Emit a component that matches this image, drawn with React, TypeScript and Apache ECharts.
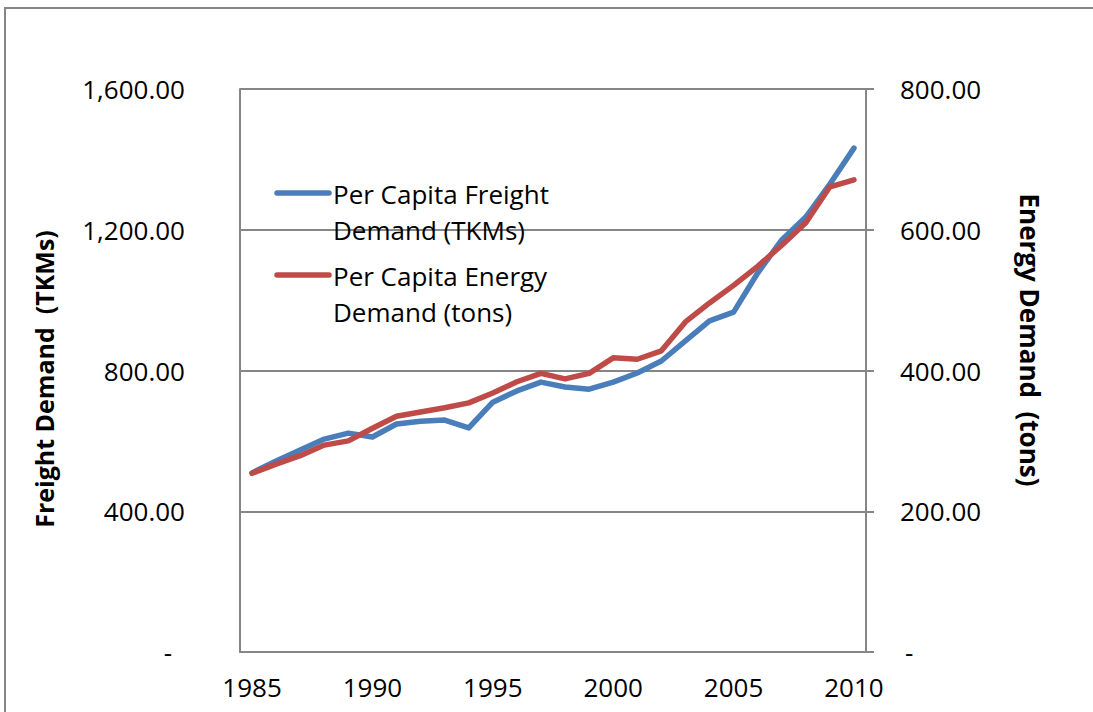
import React, { useEffect, useRef } from "react";
import * as echarts from "echarts";

const years = ["1985","1986","1987","1988","1989","1990","1991","1992","1993","1994","1995","1996","1997","1998","1999","2000","2001","2002","2003","2004","2005","2006","2007","2008","2009","2010"];
const freightName = "Per Capita Freight Demand (TKMs)";
const energyName = "Per Capita Energy Demand (tons)";
const freight = [509,543,574,605,622,611,648,656,659,637,710,742,767,753,747,767,793,827,884,941,966,1077,1171,1236,1330,1432];
const energy = [254,267,279,294,300,318,335,341,347,354,368,384,396,388,396,418,416,428,469,496,521,548,578,610,661,671];
const leftTicks = [0, 400, 800, 1200, 1600];
const rightTicks = [0, 200, 400, 600, 800];
const leftTitle = "Freight Demand  (TKMs)";
const rightTitle = "Energy Demand  (tons)";

const BLUE = "#4A7EBB";
const RED = "#BE4B48";
const FONT = "'Open Sans', 'Noto Sans', sans-serif";

const fmt = (v: number) =>
  v === 0 ? "-" : v.toLocaleString("en-US", { minimumFractionDigits: 2, maximumFractionDigits: 2 });

export default function App() {
  const ref = useRef<HTMLDivElement>(null);
  useEffect(() => {
    if (!ref.current) return;
    const chart = echarts.init(ref.current, null, { renderer: "svg" });
    chart.setOption({
      animation: false,
      backgroundColor: "#fff",
      grid: { left: 240, right: 227, top: 89, bottom: 60, containLabel: false },
      xAxis: {
        type: "category",
        data: years,
        boundaryGap: true,
        axisLine: { lineStyle: { color: "#868686", width: 2 } },
        axisTick: { show: false },
        axisLabel: {
          interval: (i: number) => i % 5 === 0,
          color: "#000",
          fontFamily: FONT,
          fontSize: 26,
          margin: 22,
        },
        splitLine: { show: false },
      },
      yAxis: [
        {
          type: "value",
          min: leftTicks[0],
          max: leftTicks[leftTicks.length - 1],
          interval: 400,
          axisLine: { show: true, lineStyle: { color: "#868686", width: 2 } },
          axisTick: { show: false },
          splitLine: { show: true, lineStyle: { color: "#868686", width: 2 } },
          axisLabel: {
            color: "#000",
            fontFamily: FONT,
            fontSize: 26,
            margin: 55,
            formatter: (v: number) => (v === 0 ? "{z|-}" : fmt(v)),
            rich: { z: { fontFamily: FONT, fontSize: 26, color: "#000", padding: [0, 13, 0, 0] } },
          },
        },
        {
          type: "value",
          min: rightTicks[0],
          max: rightTicks[rightTicks.length - 1],
          interval: 200,
          position: "right",
          axisLine: { show: true, lineStyle: { color: "#868686", width: 2 } },
          axisTick: { show: true, inside: false, length: 8, lineStyle: { color: "#868686", width: 2 } },
          splitLine: { show: false },
          axisLabel: {
            color: "#000",
            fontFamily: FONT,
            fontSize: 26,
            margin: 34,
            formatter: (v: number) => (v === 0 ? "{z|-}" : fmt(v)),
            rich: { z: { fontFamily: FONT, fontSize: 26, color: "#000", padding: [0, 0, 0, 5] } },
          },
        },
      ],
      series: [
        {
          name: freightName,
          type: "line",
          yAxisIndex: 0,
          data: freight,
          symbol: "none",
          lineStyle: { color: BLUE, width: 5.5, cap: "round", join: "round" },
          itemStyle: { color: BLUE },
          z: 2,
        },
        {
          name: energyName,
          type: "line",
          yAxisIndex: 1,
          data: energy,
          symbol: "none",
          lineStyle: { color: RED, width: 5.5, cap: "round", join: "round" },
          itemStyle: { color: RED },
          z: 3,
        },
      ],
      graphic: [
        {
          type: "polyline",
          shape: { points: [[5, 800], [5, 8], [1200, 8]] },
          style: { fill: "none", stroke: "#868686", lineWidth: 2 },
          silent: true,
          z: 100,
        },
        {
          type: "line",
          shape: { x1: 277, y1: 193, x2: 329, y2: 193 },
          style: { stroke: BLUE, lineWidth: 5.5, lineCap: "round" },
          z: 100,
        },
        {
          type: "text",
          x: 333,
          y: 176,
          style: {
            text: "Per Capita Freight\nDemand (TKMs)",
            fontFamily: FONT,
            fontSize: 26,
            lineHeight: 36,
            fill: "#000",
            align: "left",
            verticalAlign: "top",
          },
          z: 100,
        },
        {
          type: "line",
          shape: { x1: 277, y1: 275, x2: 329, y2: 275 },
          style: { stroke: RED, lineWidth: 5.5, lineCap: "round" },
          z: 100,
        },
        {
          type: "text",
          x: 333,
          y: 258,
          style: {
            text: "Per Capita Energy\nDemand (tons)",
            fontFamily: FONT,
            fontSize: 26,
            lineHeight: 36,
            fill: "#000",
            align: "left",
            verticalAlign: "top",
          },
          z: 100,
        },
        {
          type: "text",
          x: 44,
          y: 379,
          rotation: Math.PI / 2,
          style: {
            text: leftTitle,
            fontFamily: FONT,
            fontWeight: "bold",
            fontSize: 25,
            fill: "#000",
            align: "center",
            verticalAlign: "middle",
          },
          z: 100,
        },
        {
          type: "text",
          x: 1030,
          y: 340,
          rotation: -Math.PI / 2,
          style: {
            text: rightTitle,
            fontFamily: FONT,
            fontWeight: "bold",
            fontSize: 26,
            fill: "#000",
            align: "center",
            verticalAlign: "middle",
          },
          z: 100,
        },
      ],
    });
    return () => chart.dispose();
  }, []);
  return (
    <div
      ref={ref}
      style={{ position: "fixed", left: 0, top: 0, width: 1093, height: 712, background: "#fff" }}
    />
  );
}
